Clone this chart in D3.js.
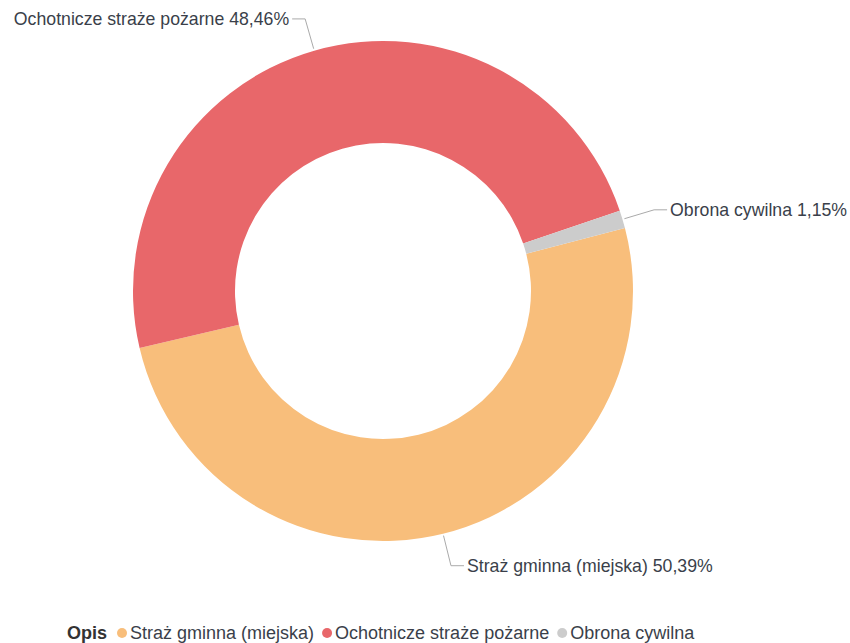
<!DOCTYPE html>
<html>
<head>
<meta charset="utf-8">
<script src="https://cdn.jsdelivr.net/npm/d3@7"></script>
<style>
  body { margin: 0; background: #fff; }
  svg { font-family: "Liberation Sans", Arial, sans-serif; }
</style>
</head>
<body>
<div id="chart"></div>
<script>
const categories = ["Straż gminna (miejska)", "Ochotnicze straże pożarne", "Obrona cywilna"]
const values = [50.39, 48.46, 1.15]
const colors = ["#f8be7b", "#e8676a", "#cccccc"]
const legendTitle = "Opis"

let width = 850, height = 643
let cx = 383, cy = 291, outerR = 250, innerR = 148

let svg = d3.select("#chart").append("svg")
    .attr("width", width)
    .attr("height", height)

let data = categories.map(function(c, i){
    return {name: c, value: values[i], color: colors[i]}
})

let startDeg = 75.4
let pie = d3.pie()
    .sort(null)
    .value(function(d){ return d.value })
    .startAngle(startDeg * Math.PI / 180)
    .endAngle((startDeg + 360) * Math.PI / 180)

let arc = d3.arc().innerRadius(innerR).outerRadius(outerR)

let g = svg.append("g").attr("transform", "translate(" + cx + "," + cy + ")")

let arcs = pie(data)

g.selectAll(".slice")
    .data(arcs)
    .enter()
    .append("path")
    .attr("d", arc)
    .attr("fill", function(d){ return d.data.color })

function polar(a, r){
    return [r * Math.sin(a), -r * Math.cos(a)]
}

let fmt = function(v){ return v.toFixed(2).replace(".", ",") + "%" }

arcs.forEach(function(d){
    let mid = (d.startAngle + d.endAngle) / 2
    let p0 = polar(mid, outerR + 2)
    let p1 = polar(mid, outerR + 33)
    let right = p1[0] > 0
    let p2 = [p1[0] + (right ? 13 : -13), p1[1]]

    g.append("path")
        .attr("d", "M" + p0 + "L" + p1 + "L" + p2)
        .attr("fill", "none")
        .attr("stroke", "#aaa")
        .attr("stroke-width", 1)

    g.append("text")
        .attr("x", p2[0] + (right ? 3 : -3))
        .attr("y", p2[1])
        .attr("dy", "0.35em")
        .attr("text-anchor", right ? "start" : "end")
        .attr("font-size", 17.7)
        .attr("fill", "#3a3f4a")
        .text(d.data.name + " " + fmt(d.data.value))
})

// legend
let legend = svg.append("g").attr("transform", "translate(67,633)")

let lt = legend.append("text")
    .attr("x", 0)
    .attr("dy", "0.35em")
    .attr("font-size", 18)
    .attr("font-weight", "bold")
    .attr("fill", "#333")
    .text(legendTitle)

let x = lt.node().getComputedTextLength() + 10
data.forEach(function(d){
    legend.append("circle")
        .attr("cx", x + 5)
        .attr("cy", 0)
        .attr("r", 5)
        .attr("fill", d.color)
    let t = legend.append("text")
        .attr("x", x + 13)
        .attr("dy", "0.35em")
        .attr("font-size", 18)
        .attr("fill", "#3a3f4a")
        .text(d.name)
    x += 13 + t.node().getComputedTextLength() + 8
})
</script>
</body>
</html>
